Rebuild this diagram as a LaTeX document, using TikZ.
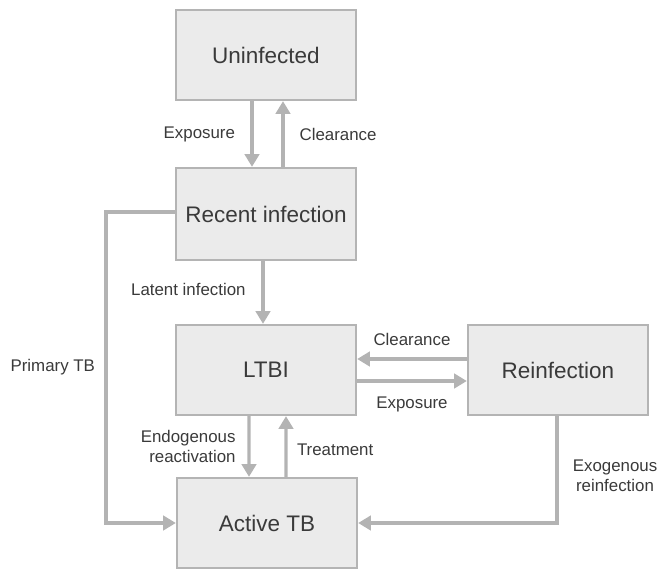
\documentclass[tikz,border=0pt]{standalone}
\usepackage{fontspec}
\setmainfont{Liberation Sans}
\usepackage{xcolor}
\usepackage{tikz}
\usetikzlibrary{arrows.meta,positioning,calc}
\tikzset{
  flowarrow/.style={-{Triangle[length=3.2mm,width=3.6mm]}, line width=2.3pt,
    draw=FlowGray},
  flowlabel/.style={font=\fontsize{12}{14.5}\selectfont, text=LabelInk, inner sep=1pt}
}
\definecolor{StateFill}{HTML}{EBEBEB}
\definecolor{StateLine}{HTML}{B4B4B4}
\definecolor{FlowGray}{HTML}{B3B3B3}
\definecolor{LabelInk}{HTML}{3A3A3A}

\begin{document}
\begin{tikzpicture}[
  statebox/.style={draw=StateLine, fill=StateFill, line width=1.6pt, align=center,
    minimum width=4.5cm, minimum height=2.25cm, text=LabelInk,
    font=\fontsize{16}{19}\selectfont}
]
\useasboundingbox (0,0) rectangle (16.625,14.25);
\node[statebox] at (6.65,12.875) (unin) {Uninfected};
\node[statebox, minimum height=2.3cm] at (6.65,8.9) (recent) {Recent infection};
\node[statebox] at (6.65,5.0) (ltbi) {LTBI};
\node[statebox] at (13.95,5.0) (reinf) {Reinfection};
\node[statebox] at (6.675,1.175) (active) {Active TB};

% Uninfected <-> recent infection
\draw[flowarrow] ([xshift=-0.35cm]unin.south) -- node[flowlabel, left=3.5mm]{Exposure} ([xshift=-0.35cm]recent.north);
\draw[flowarrow] ([xshift=0.425cm]recent.north) -- node[flowlabel, right=3.4mm]{Clearance} ([xshift=0.425cm]unin.south);
\draw[flowarrow] ([xshift=-0.075cm]recent.south) -- node[flowlabel, pos=0.45, left=3.6mm]{Latent infection} ([xshift=-0.075cm]ltbi.north);

% LTBI <-> reinfection
\draw[flowarrow] ([yshift=0.275cm]reinf.west) -- node[flowlabel, above=2.5mm]{Clearance} ([yshift=0.275cm]ltbi.east);
\draw[flowarrow] ([yshift=-0.275cm]ltbi.east) -- node[flowlabel, below=3.3mm]{Exposure} ([yshift=-0.275cm]reinf.west);

% LTBI <-> active TB
\draw[flowarrow] ([xshift=-0.425cm]ltbi.south) -- node[flowlabel, align=right, left=2.6mm]{Endogenous\\reactivation} ([xshift=-0.45cm]active.north);
\draw[flowarrow] ([xshift=0.475cm]active.north) -- node[flowlabel, pos=0.45, right=2mm]{Treatment} ([xshift=0.5cm]ltbi.south);

% routes round the side into active TB
\coordinate (pbend) at (2.65,0);
\draw[flowarrow] ([yshift=0.05cm]recent.west) -- ([yshift=0.05cm]recent.west -| pbend)
  -- node[flowlabel, left=2mm]{Primary TB} (pbend |- active.west) -- (active.west);
\draw[flowarrow] ([xshift=-0.025cm]reinf.south) |- node[flowlabel, align=center, pos=0.28, right=3.2mm]{Exogenous\\reinfection} (active.east);
\end{tikzpicture}
\end{document}
